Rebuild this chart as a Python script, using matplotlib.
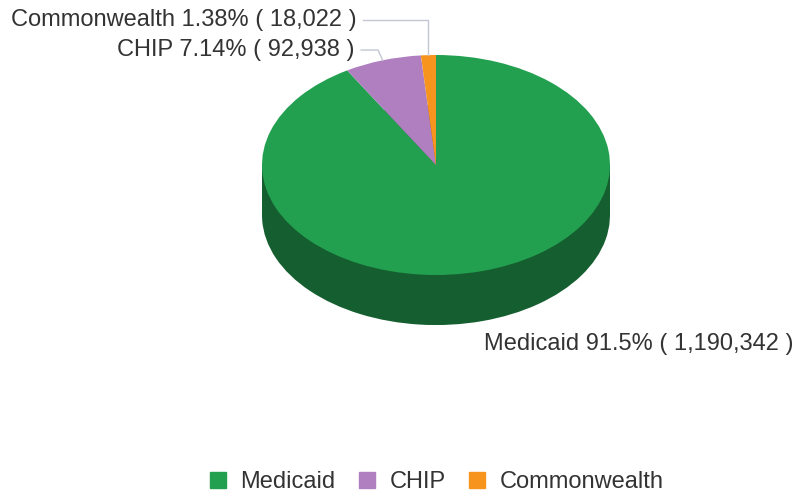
import matplotlib
matplotlib.use("Agg")
from matplotlib import pyplot as plt
from matplotlib.lines import Line2D
import numpy as np

# dati
labels = ["Medicaid", "CHIP", "Commonwealth"]
counts = [1190342, 92938, 18022]
top_colors = ["#22a050", "#b07fc0", "#f7941d"]
side_colors = ["#155e2f", "#6e4d7a", "#a8620f"]

plt.rcParams['font.family'] = ['Liberation Sans', 'DejaVu Sans']

fig = plt.figure(figsize=(7.95, 4.97), dpi=100)
ax = fig.add_axes([0, 0, 1, 1])

depth = 0.455   # spessore del "3d"
total = sum(counts)
perc = [c / total * 100 for c in counts]

# lato (parte scura) -> pie spostata in basso + rettangolo
ax.pie(counts, colors=side_colors, startangle=90, counterclock=False,
       center=(0, -depth), radius=1, wedgeprops=dict(linewidth=0))
ax.fill_between([-1, 1], -depth, 0, color=side_colors[0], linewidth=0)
# faccia superiore
wedges, _ = ax.pie(counts, colors=top_colors, startangle=90, counterclock=False,
                   center=(0, 0), radius=1, wedgeprops=dict(linewidth=0))

ax.set_aspect('auto')
ax.set_xlim(-436 / 174, (795 - 436) / 174)
ax.set_ylim(-332 / 110, 165 / 110)
ax.axis('off')

def mid_point(w):
    a = np.deg2rad((w.theta1 + w.theta2) / 2)
    return np.cos(a), np.sin(a)

txt = [f"{l} {p:.3g}% ( {c:,} )" for l, p, c in zip(labels, perc, counts)]
text_kw = dict(fontsize=17, color="#333333", va="center")
line_c = "#c3c6d3"

# Medicaid (senza connettore visibile)
ax.text(0.276, -1.627, txt[0], ha="left", **text_kw)

# CHIP
px, py = mid_point(wedges[1])
ax.text(-0.47, 1.045, txt[1], ha="right", **text_kw)
ax.plot([-0.43, -0.333, px], [1.045, 1.045, py], color=line_c, lw=1)

# Commonwealth
px, py = mid_point(wedges[2])
ax.text(-0.455, 1.318, txt[2], ha="right", **text_kw)
ax.plot([-0.42, px, px], [1.318, 1.318, py], color=line_c, lw=1)

handles = [Line2D([], [], marker='s', linestyle='none', markersize=11.5,
                  markerfacecolor=c, markeredgecolor=c) for c in top_colors]
fig.legend(handles, labels, loc='center', bbox_to_anchor=(0.547, 0.03),
           ncol=3, frameon=False, fontsize=17, handlelength=1.0,
           handletextpad=0.45, columnspacing=0.85, labelcolor="#333333")

fig.savefig("out.png", dpi=100)
